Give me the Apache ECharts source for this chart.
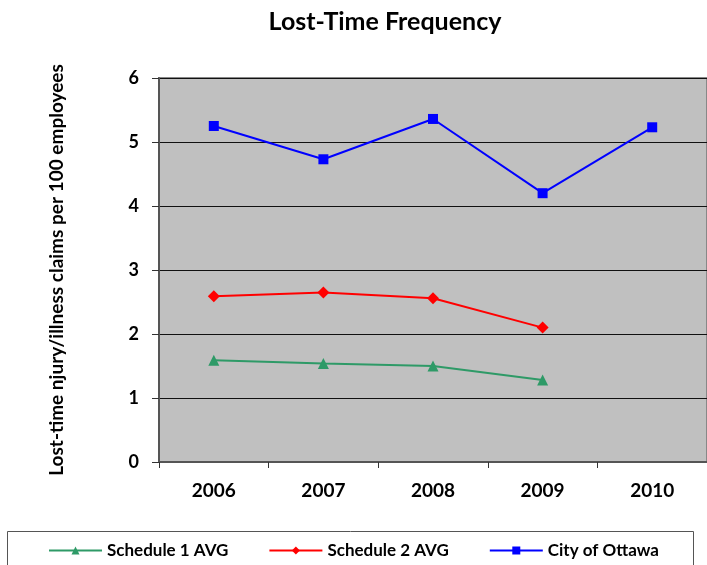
<!DOCTYPE html>
<html>
<head>
<meta charset="utf-8">
<script src="https://cdn.jsdelivr.net/npm/echarts@6/dist/echarts.min.js"></script>
<style>
  html, body { margin: 0; padding: 0; background: #fff; }
  #main { width: 707px; height: 565px; }
</style>
</head>
<body>
<div id="main"></div>
<script>
var years = ['2006', '2007', '2008', '2009', '2010'];
var schedule1 = [1.59, 1.54, 1.50, 1.28, null];
var schedule2 = [2.59, 2.65, 2.56, 2.10, null];
var ottawa = [5.25, 4.73, 5.36, 4.20, 5.23];

var font = 'Lato, "Open Sans", sans-serif';
var chart = echarts.init(document.getElementById('main'));

var option = {
    animation: false,
    backgroundColor: '#fff',
    title: {
        text: 'Lost-Time Frequency',
        left: 380,
        top: 4,
        textAlign: 'center',
        textStyle: { fontFamily: font, fontWeight: 'bold', fontSize: 25, color: '#000' }
    },
    grid: {
        left: 159,
        right: -7,
        top: 78,
        bottom: 103,
        show: true,
        backgroundColor: '#c0c0c0',
        borderColor: '#888',
        borderWidth: 2
    },
    legend: {
        top: 537,
        left: 43,
        itemWidth: 53,
        itemHeight: 10,
        itemGap: 40,
        textStyle: { fontFamily: font, fontWeight: 'bold', fontSize: 17, color: '#000' },
        data: ['Schedule 1 AVG', 'Schedule 2 AVG', 'City of Ottawa']
    },
    graphic: [{
        type: 'rect',
        shape: { x: 7.5, y: 531.5, width: 686, height: 60 },
        style: { fill: 'none', stroke: '#555', lineWidth: 1 }
    }],
    xAxis: {
        type: 'category',
        data: years,
        boundaryGap: true,
        axisLine: { lineStyle: { color: '#555', width: 2 } },
        axisTick: { show: true, length: 6, lineStyle: { color: '#333' } },
        axisLabel: { fontFamily: font, fontWeight: 'bold', fontSize: 19, color: '#000', margin: 19 }
    },
    yAxis: {
        type: 'value',
        min: 0,
        max: 6,
        interval: 1,
        name: 'Lost-time njury/illness claims per 100 employees',
        nameLocation: 'middle',
        nameGap: 93,
        nameTextStyle: { fontFamily: font, fontWeight: 'bold', fontSize: 19, color: '#000' },
        axisLine: { show: true, lineStyle: { color: '#555', width: 2 } },
        axisTick: { show: true, length: 7, lineStyle: { color: '#333' } },
        axisLabel: { fontFamily: font, fontWeight: 'bold', fontSize: 18, color: '#000', margin: 20 },
        splitLine: { lineStyle: { color: '#111', width: 1 } }
    },
    series: [
        {
            name: 'Schedule 1 AVG',
            type: 'line',
            data: schedule1,
            symbol: 'triangle',
            symbolSize: 11,
            color: '#2e9a67',
            lineStyle: { width: 2 }
        },
        {
            name: 'Schedule 2 AVG',
            type: 'line',
            data: schedule2,
            symbol: 'diamond',
            symbolSize: 12,
            color: '#ff0000',
            lineStyle: { width: 2 }
        },
        {
            name: 'City of Ottawa',
            type: 'line',
            data: ottawa,
            symbol: 'rect',
            symbolSize: 10,
            color: '#0000ff',
            lineStyle: { width: 2 }
        }
    ]
};
chart.setOption(option);
</script>
</body>
</html>
